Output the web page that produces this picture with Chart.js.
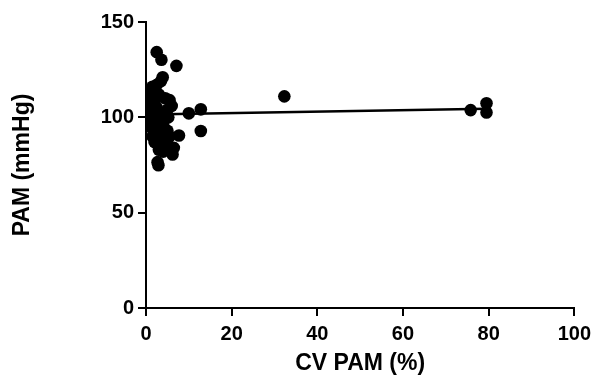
<!DOCTYPE html>
<html>
<head>
<meta charset="utf-8">
<script src="https://cdn.jsdelivr.net/npm/chart.js@4"></script>
<style>
  html, body { margin: 0; padding: 0; background: #fff; }
  #wrap { width: 597px; height: 378px; }
</style>
</head>
<body>
<div id="wrap"><canvas id="c" width="597" height="378"></canvas></div>
<script>
// CV PAM (%) values
const cvPam = [
  2.5, 3.6, 7.1, 3.9, 10.0, 12.8, 12.8, 7.7, 6.2, 2.9, 2.7, 32.3, 75.8, 79.5, 79.5,
  1.0, 1.5, 2.5, 3.5, 1.2, 2.0, 3.0, 4.5, 5.5, 6.0, 5.0, 2.5, 1.5, 0.8, 2.0, 3.5, 4.5,
  1.0, 2.0, 3.0, 4.0, 5.0, 1.5, 2.5, 3.5, 4.5, 5.5, 2.0, 3.0, 4.0, 5.0, 6.5, 3.0, 4.0,
  0.6, 1.8, 3.2, 4.2, 0.7, 5.2
];
// PAM (mmHg) values
const pam = [
  134.2, 130.2, 127.0, 121.0, 102.1, 104.2, 92.8, 90.5, 80.5, 74.9, 76.5, 111.0, 103.8, 107.4, 102.5,
  113, 116, 117, 119, 110, 108, 112, 110, 109, 106, 104, 105, 104, 100, 99, 101, 102,
  95, 94, 97, 96, 93, 90, 91, 89, 88, 90, 87, 85, 84, 86, 84, 83, 82,
  108, 114, 98, 92, 96, 100
];
// Regression line endpoints
const fitX = [0.6, 79.5];
const fitY = [101.5, 104.5];

const xTicks = [0, 20, 40, 60, 80, 100];
const yTicks = [0, 50, 100, 150];

const points = cvPam.map((x, i) => ({ x: x, y: pam[i] }));
const fitPts = fitX.map((x, i) => ({ x: x, y: fitY[i] }));

const tickFont = { family: 'Liberation Sans, Arial, sans-serif', size: 20, weight: 'bold' };
const titleFont = { family: 'Liberation Sans, Arial, sans-serif', size: 23, weight: 'bold' };

const gridOpts = {
  display: true, drawOnChartArea: false, drawTicks: true,
  tickLength: 8, color: '#000', lineWidth: 2, tickColor: '#000', tickWidth: 2
};

new Chart(document.getElementById('c'), {
  type: 'scatter',
  data: {
    datasets: [
      { type: 'line', data: fitPts, borderColor: '#000', borderWidth: 2.5, pointRadius: 0, fill: false, order: 2 },
      { data: points, backgroundColor: '#000', borderColor: '#000', pointRadius: 6.3, pointBorderWidth: 0, order: 1 }
    ]
  },
  options: {
    responsive: false, animation: false, devicePixelRatio: 1,
    layout: { padding: { top: 22, right: 17, left: 0, bottom: 0 } },
    plugins: { legend: { display: false }, tooltip: { enabled: false } },
    scales: {
      x: {
        type: 'linear', min: 0, max: 100,
        afterBuildTicks: (s) => { s.ticks = xTicks.map(v => ({ value: v })); },
        afterFit: (s) => { s.height = 70; },
        ticks: { color: '#000', font: tickFont, padding: 6, maxRotation: 0 },
        grid: gridOpts,
        border: { display: true, color: '#000', width: 2 },
        title: { display: true, text: 'CV PAM (%)', color: '#000', font: titleFont, padding: { top: 0, bottom: 1 } }
      },
      y: {
        type: 'linear', min: 0, max: 150,
        afterBuildTicks: (s) => { s.ticks = yTicks.map(v => ({ value: v })); },
        afterFit: (s) => { s.width = 146; },
        ticks: { color: '#000', font: tickFont, padding: 4 },
        grid: gridOpts,
        border: { display: true, color: '#000', width: 2 },
        title: { display: true, text: 'PAM (mmHg)', color: '#000', font: titleFont, padding: { top: 9, bottom: 0 } }
      }
    }
  }
});
</script>
</body>
</html>
